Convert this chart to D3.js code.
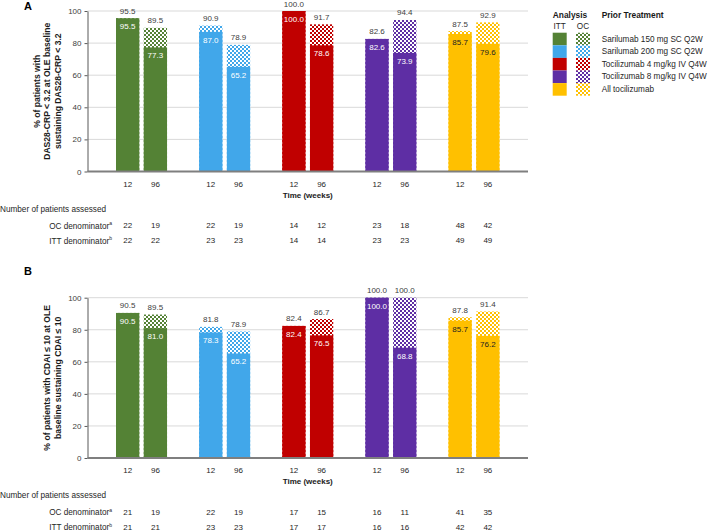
<!DOCTYPE html>
<html><head><meta charset="utf-8">
<script src="https://cdn.jsdelivr.net/npm/d3@7"></script>
<style>
body{margin:0;background:#fff;}
svg{font-family:"Liberation Sans",Arial,sans-serif;}
</style></head>
<body><svg id="chart" width="709" height="530"></svg>
<script>
const groups = ["Sarilumab 150 mg SC Q2W","Sarilumab 200 mg SC Q2W","Tocilizumab 4 mg/kg IV Q4W","Tocilizumab 8 mg/kg IV Q4W","All tocilizumab"];
const times = ["12","96"];
const colors = ["#548235","#41A7EA","#C00000","#5E2EA4","#FFC000"];
const innerTextColors = ["#ffffff","#ffffff","#ffffff","#ffffff","#222222"];
const yTicks = [0,20,40,60,80,100];

// Panel A (DAS28-CRP) values, per group: [week12, week96]
const ocA  = [[95.5,89.5],[90.9,78.9],[100.0,91.7],[82.6,94.4],[87.5,92.9]];
const ittA = [[95.5,77.3],[87.0,65.2],[100.0,78.6],[82.6,73.9],[85.7,79.6]];
const ocDenA  = [[22,19],[22,19],[14,12],[23,18],[48,42]];
const ittDenA = [[22,22],[23,23],[14,14],[23,23],[49,49]];

// Panel B (CDAI) values
const ocB  = [[90.5,89.5],[81.8,78.9],[82.4,86.7],[100.0,100.0],[87.8,91.4]];
const ittB = [[90.5,81.0],[78.3,65.2],[82.4,76.5],[100.0,68.8],[85.7,76.2]];
const ocDenB  = [[21,19],[22,19],[17,15],[16,11],[41,35]];
const ittDenB = [[21,21],[23,23],[17,17],[16,16],[42,42]];

const titleA = ["% of patients with","DAS28-CRP < 3.2 at OLE baseline","sustaining DAS28-CRP < 3.2"];
const titleB = ["% of patients with CDAI ≤ 10 at OLE","baseline sustaining CDAI ≤ 10"];

const svg = d3.select("#chart");
const defs = svg.append("defs");
colors.forEach((c,i)=>{
  const p = defs.append("pattern").attr("id","chk"+i).attr("patternUnits","userSpaceOnUse")
    .attr("width",4).attr("height",4);
  p.append("rect").attr("width",4).attr("height",4).attr("fill",c);
  p.append("rect").attr("x",0).attr("y",0).attr("width",2).attr("height",2).attr("fill","#fff");
  p.append("rect").attr("x",2).attr("y",2).attr("width",2).attr("height",2).attr("fill","#fff");
});

const xLeft = 87.5, xRight = 528;
const xG = d3.scaleBand().domain(d3.range(groups.length)).range([xLeft,xRight]).paddingInner(0.386).paddingOuter(0.343);
const xT = d3.scaleBand().domain(times).range([0,xG.bandwidth()]).paddingInner(0.16).paddingOuter(0);

function panel(top, bottom, oc, itt, ocDen, ittDen, title, letter, letterY){
  const y = d3.scaleLinear().domain([0,100]).range([bottom, top]);
  const g = svg.append("g");
  g.append("text").attr("x",28).attr("y",letterY).attr("font-size",11).attr("font-weight","bold")
    .attr("dominant-baseline","central").attr("text-anchor","middle").text(letter);
  // grid
  g.selectAll(".grid").data(yTicks.filter(d=>d>0)).join("line")
    .attr("x1",xLeft).attr("x2",xRight).attr("y1",d=>y(d)).attr("y2",d=>y(d))
    .attr("stroke","#d9d9d9").attr("stroke-width",1);
  // y axis
  const ax = g.append("g").attr("transform",`translate(${xLeft},0)`)
    .call(d3.axisLeft(y).tickValues(yTicks).tickSize(3).tickPadding(3).tickSizeOuter(0));
  ax.select(".domain").attr("stroke","#595959");
  ax.selectAll(".tick line").attr("stroke","#595959");
  ax.selectAll(".tick text").attr("font-size",8).attr("fill","#404040").attr("font-family","Liberation Sans, Arial, sans-serif");
  // y title
  const cy = (top+bottom)/2;
  const n = title.length;
  title.forEach((t,i)=>{
    const lx = 60.5 - (n-1-i)*10.5;
    g.append("text").attr("transform",`translate(${lx},${cy}) rotate(-90)`)
      .attr("text-anchor","middle").attr("font-size",8.6).attr("font-weight","bold").attr("fill","#1a1a1a").text(t);
  });
  // bars
  groups.forEach((grp,gi)=>{
    times.forEach((t,ti)=>{
      const bx = xG(gi)+xT(t), bw = xT.bandwidth();
      g.append("rect").attr("x",bx).attr("width",bw).attr("y",y(oc[gi][ti])).attr("height",bottom-y(oc[gi][ti]))
        .attr("fill",`url(#chk${gi})`);
      g.append("rect").attr("x",bx).attr("width",bw).attr("y",y(itt[gi][ti])).attr("height",bottom-y(itt[gi][ti]))
        .attr("fill",colors[gi]);
      g.append("text").attr("x",bx+bw/2).attr("y",y(oc[gi][ti])-7).attr("text-anchor","middle")
        .attr("dominant-baseline","central").attr("font-size",8).attr("fill","#404040").text(oc[gi][ti].toFixed(1));
      g.append("text").attr("x",bx+bw/2).attr("y",y(itt[gi][ti])+8.5).attr("text-anchor","middle")
        .attr("dominant-baseline","central").attr("font-size",8).attr("fill",innerTextColors[gi]).text(itt[gi][ti].toFixed(1));
      g.append("text").attr("x",bx+bw/2).attr("y",bottom+12.5).attr("text-anchor","middle")
        .attr("dominant-baseline","central").attr("font-size",8).attr("fill","#262626").text(t);
      g.append("text").attr("x",bx+bw/2).attr("y",bottom+54).attr("text-anchor","middle")
        .attr("dominant-baseline","central").attr("font-size",8).attr("fill","#262626").text(ocDen[gi][ti]);
      g.append("text").attr("x",bx+bw/2).attr("y",bottom+69).attr("text-anchor","middle")
        .attr("dominant-baseline","central").attr("font-size",8).attr("fill","#262626").text(ittDen[gi][ti]);
    });
  });
  // bottom axis line
  g.append("line").attr("x1",xLeft).attr("x2",xRight).attr("y1",bottom).attr("y2",bottom)
    .attr("stroke","#7f7f7f").attr("stroke-width",2);
  g.append("text").attr("x",(xLeft+xRight)/2).attr("y",bottom+23.5).attr("text-anchor","middle")
    .attr("dominant-baseline","central").attr("font-size",8).attr("font-weight","bold").attr("fill","#1a1a1a").text("Time (weeks)");
  g.append("text").attr("x",0).attr("y",bottom+37.7).attr("dominant-baseline","central")
    .attr("font-size",8.2).attr("fill","#262626").text("Number of patients assessed");
  const oct = g.append("text").attr("x",112).attr("y",bottom+54).attr("text-anchor","end").attr("dominant-baseline","central")
    .attr("font-size",8.2).attr("fill","#262626");
  oct.append("tspan").text("OC denominator");
  oct.append("tspan").attr("font-size",5).attr("dy",-2.5).text("a");
  const itt_t = g.append("text").attr("x",112).attr("y",bottom+69).attr("text-anchor","end").attr("dominant-baseline","central")
    .attr("font-size",8.2).attr("fill","#262626");
  itt_t.append("tspan").text("ITT denominator");
  itt_t.append("tspan").attr("font-size",5).attr("dy",-2.5).text("b");
}

panel(11, 171.5, ocA, ittA, ocDenA, ittDenA, titleA, "A", 6);
panel(297.7, 458, ocB, ittB, ocDenB, ittDenB, titleB, "B", 271);

// legend
const lg = svg.append("g");
lg.append("text").attr("x",570).attr("y",15).attr("text-anchor","middle").attr("dominant-baseline","central")
  .attr("font-size",8.4).attr("font-weight","bold").attr("fill","#1a1a1a").text("Analysis");
lg.append("text").attr("x",601.7).attr("y",15).attr("dominant-baseline","central")
  .attr("font-size",8.4).attr("font-weight","bold").attr("fill","#1a1a1a").text("Prior Treatment");
lg.append("text").attr("x",559.7).attr("y",26.5).attr("text-anchor","middle").attr("dominant-baseline","central")
  .attr("font-size",8.2).attr("fill","#262626").text("ITT");
lg.append("text").attr("x",583).attr("y",26.5).attr("text-anchor","middle").attr("dominant-baseline","central")
  .attr("font-size",8.2).attr("fill","#262626").text("OC");
const rowH = 12.6, row0 = 32.7;
groups.forEach((grp,i)=>{
  lg.append("rect").attr("x",552.7).attr("y",row0+i*rowH).attr("width",14).attr("height",rowH).attr("fill",colors[i]);
  lg.append("rect").attr("x",576).attr("y",row0+i*rowH).attr("width",14).attr("height",rowH).attr("fill",`url(#chk${i})`);
  lg.append("text").attr("x",601.7).attr("y",row0+i*rowH+rowH/2).attr("dominant-baseline","central")
    .attr("font-size",8.2).attr("fill","#262626").text(grp);
});
</script></body></html>
